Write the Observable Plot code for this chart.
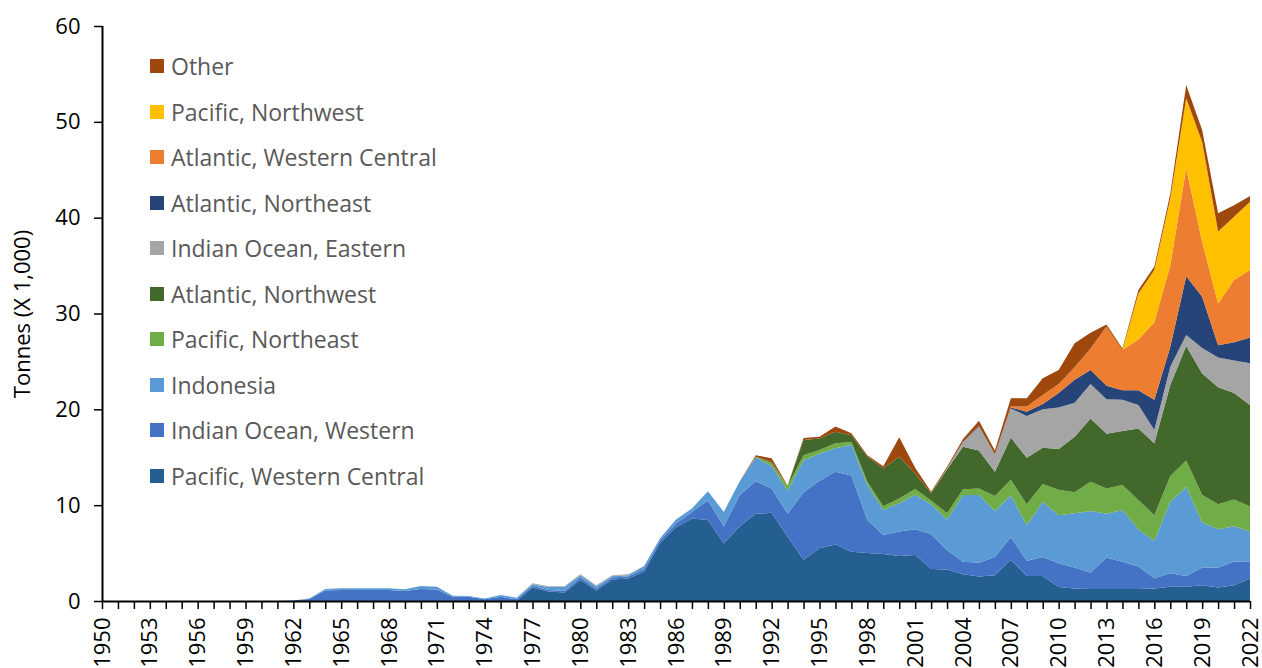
<!DOCTYPE html>
<html><head><meta charset="utf-8">
<script src="https://cdn.jsdelivr.net/npm/d3@7"></script>
<script src="https://cdn.jsdelivr.net/npm/@observablehq/plot@0.6"></script>
<style>
body{margin:0;background:#fff;}
#wrap{position:relative;width:1262px;height:668px;overflow:hidden;font-family:"Open Sans",sans-serif;}
#wrap svg text{font-size:22px;fill:#000;}
#legend{position:absolute;left:150px;top:0;}
.item{position:absolute;left:0;white-space:nowrap;display:flex;align-items:center;height:30px;font-size:23px;color:#595959;}
.sw{width:14px;height:14px;margin-right:7px;flex:none;}
</style></head>
<body><div id="wrap"><div id="legend"></div></div>
<script>
// Years shown on the x axis
const firstYear = 1950, lastYear = 2022;
const years = d3.range(firstYear, lastYear + 1);
const yTicks = [0, 10, 20, 30, 40, 50, 60];

// Series names, bottom of stack first
const seriesNames = [
  "Pacific, Western Central",
  "Indian Ocean, Western",
  "Indonesia",
  "Pacific, Northeast",
  "Atlantic, Northwest",
  "Indian Ocean, Eastern",
  "Atlantic, Northeast",
  "Atlantic, Western Central",
  "Pacific, Northwest",
  "Other"
];
const seriesColors = ["#255E91","#4472C4","#5B9BD5","#70AD47","#43682B","#A5A5A5","#264478","#ED7D31","#FFC000","#9E480E"];

// Values (tonnes x 1,000); each list starts at the given year, earlier years are 0
const pacificWesternCentralStart = 1977;
const pacificWesternCentral = [1.4,1.0,0.9,2.2,1.1,2.25,2.35,3.05,
  6.05,7.7,8.6,8.45,6.0,7.8,9.1,9.2,6.7,4.3,
  5.5,5.9,5.15,5.0,4.9,4.7,4.8,3.35,3.3,2.8,
  2.55,2.7,4.3,2.6,2.6,1.45,1.3,1.25,1.25,1.25,
  1.25,1.3,1.5,1.5,1.65,1.4,1.65,2.35];
const indianOceanWesternStart = 1962;
const indianOceanWestern = [0.05,0.2,1.1,1.15,1.15,1.15,1.15,1.05,1.25,1.2,
  0.45,0.45,0.17,0.45,0.17,0.2,0.15,0.15,0.25,0.2,
  0.2,0.2,0.3,0.3,0.4,0.7,2.05,1.8,3.25,3.4,
  2.55,2.4,7.05,7.05,7.6,7.95,3.45,2.0,2.55,2.7,
  3.65,2.0,1.3,1.45,1.9,2.35,1.6,2.0,2.5,2.2,
  1.7,3.3,2.85,2.35,1.07,1.4,1.1,1.85,2.1,2.45,
  1.8];
const indonesiaStart = 1963;
const indonesia = [0.05,0.15,0.17,0.17,0.17,0.17,0.18,0.32,0.3,0.1,
  0.08,0.1,0.18,0.18,0.15,0.3,0.4,0.25,0.25,0.15,
  0.15,0.3,0.2,0.4,0.35,0.95,1.5,1.45,2.5,2.3,
  2.4,3.3,2.85,2.45,3.2,3.65,2.6,2.95,3.6,3.1,
  3.2,6.95,7.05,4.8,4.35,3.7,5.75,5.0,5.65,6.45,
  4.55,5.4,3.9,3.93,7.45,9.3,4.7,4.0,3.7,3.1];
const pacificNortheastStart = 1991;
const pacificNortheast = [0.05,0.35,0.5,0.55,0.35,0.5,0.3,0.35,0.4,0.5,
  0.6,0.4,0.65,0.6,0.7,1.55,1.65,2.2,1.85,2.65,
  2.2,3.05,2.65,2.6,3.05,2.65,2.7,2.75,2.85,2.6,
  2.8,2.6];
const atlanticNorthwestStart = 1992;
const atlanticNorthwest = [0.1,0,1.6,1.2,1.2,0.7,2.6,3.95,4.35,1.6,
  0.75,4.6,4.45,3.95,2.55,4.4,4.85,3.8,4.25,5.8,
  6.6,5.7,5.65,7.45,7.5,9.5,11.95,12.7,12.2,11.1,
  10.6];
const indianOceanEasternStart = 1977;
const indianOceanEastern = [0.1,0.1,0.1,0.1,0.1,0.1,0.1,
  0,0,0,0,0,0,0,0,0,0,0,0,0,0,0,0,0,0,0,
  0.1,0.5,2.5,1.8,3.05,4.35,4.0,4.35,3.55,3.6,
  3.6,3.25,2.45,1.4,1.9,1.15,2.65,3.1,3.4,4.35];
const atlanticNortheastStart = 2004;
const atlanticNortheast = [0.05,0.1,0,0.1,0.45,0.55,1.5,2.4,1.45,1.4,
  1.0,1.55,3.15,2.05,6.15,5.35,1.3,1.9,2.7];
const atlanticWesternCentralStart = 2007;
const atlanticWesternCentral = [0.1,0.55,0.95,0.95,1.3,2.25,6.2,4.2,5.3,8.1,
  8.5,11.25,5.75,4.35,6.5,7.05];
const pacificNorthwestStart = 2015;
const pacificNorthwest = [4.8,5.45,7.0,7.3,10.4,7.5,6.6,7.1];
const otherStart = 1991;
const other = [0.15,0.4,0.05,0.2,0.2,0.55,0.2,0.15,0.2,2.05,
  0.6,0.15,0.15,0.25,0.5,0.4,0.85,0.85,1.75,1.45,
  2.5,1.65,0.2,0.15,0.35,0.35,0.5,1.4,1.25,1.9,
  1.2,0.6];

const seriesLists = [
  [pacificWesternCentralStart, pacificWesternCentral],
  [indianOceanWesternStart, indianOceanWestern],
  [indonesiaStart, indonesia],
  [pacificNortheastStart, pacificNortheast],
  [atlanticNorthwestStart, atlanticNorthwest],
  [indianOceanEasternStart, indianOceanEastern],
  [atlanticNortheastStart, atlanticNortheast],
  [atlanticWesternCentralStart, atlanticWesternCentral],
  [pacificNorthwestStart, pacificNorthwest],
  [otherStart, other]
];

const data = [];
seriesNames.forEach((name, i) => {
  const [start, vals] = seriesLists[i];
  years.forEach(y => {
    const v = y < start ? 0 : (vals[y - start] ?? 0);
    data.push({year: y, series: name, value: v});
  });
});

const chart = Plot.plot({
  width: 1262, height: 668,
  marginLeft: 102, marginRight: 12, marginTop: 26, marginBottom: 67,
  style: {fontFamily: "'Open Sans', sans-serif", fontSize: "22px", color: "#000", background: "#fff"},
  x: {domain: [firstYear, lastYear]},
  y: {domain: [0, 60]},
  color: {domain: seriesNames, range: seriesColors},
  marks: [
    Plot.areaY(data, {x: "year", y: "value", fill: "series", z: "series", order: seriesNames, curve: "linear"}),
    Plot.axisY({ticks: yTicks, tickSize: 8, tickPadding: 14, strokeWidth: 1.5,
      label: "Tonnes (X 1,000)", labelAnchor: "center", labelArrow: "none", labelOffset: 88}),
    Plot.axisX({ticks: years, tickSize: 8, tickPadding: 8, strokeWidth: 1.5, tickRotate: -90,
      tickFormat: d => (d - firstYear) % 3 === 0 ? String(d) : "", label: null}),
    Plot.ruleX([firstYear], {stroke: "#000", strokeWidth: 2}),
    Plot.ruleY([0], {stroke: "#000", strokeWidth: 2})
  ]
});
const wrap = document.getElementById("wrap");
wrap.insertBefore(chart, wrap.firstChild);

// Legend, top to bottom
const legend = document.getElementById("legend");
const legendOrder = seriesNames.slice().reverse();
legendOrder.forEach((name, i) => {
  const item = document.createElement("div");
  item.className = "item";
  item.style.top = (51 + i * 45.5) + "px";
  const sw = document.createElement("span");
  sw.className = "sw";
  sw.style.background = seriesColors[seriesNames.indexOf(name)];
  const t = document.createElement("span");
  t.textContent = name;
  item.appendChild(sw); item.appendChild(t);
  legend.appendChild(item);
});
</script></body></html>
